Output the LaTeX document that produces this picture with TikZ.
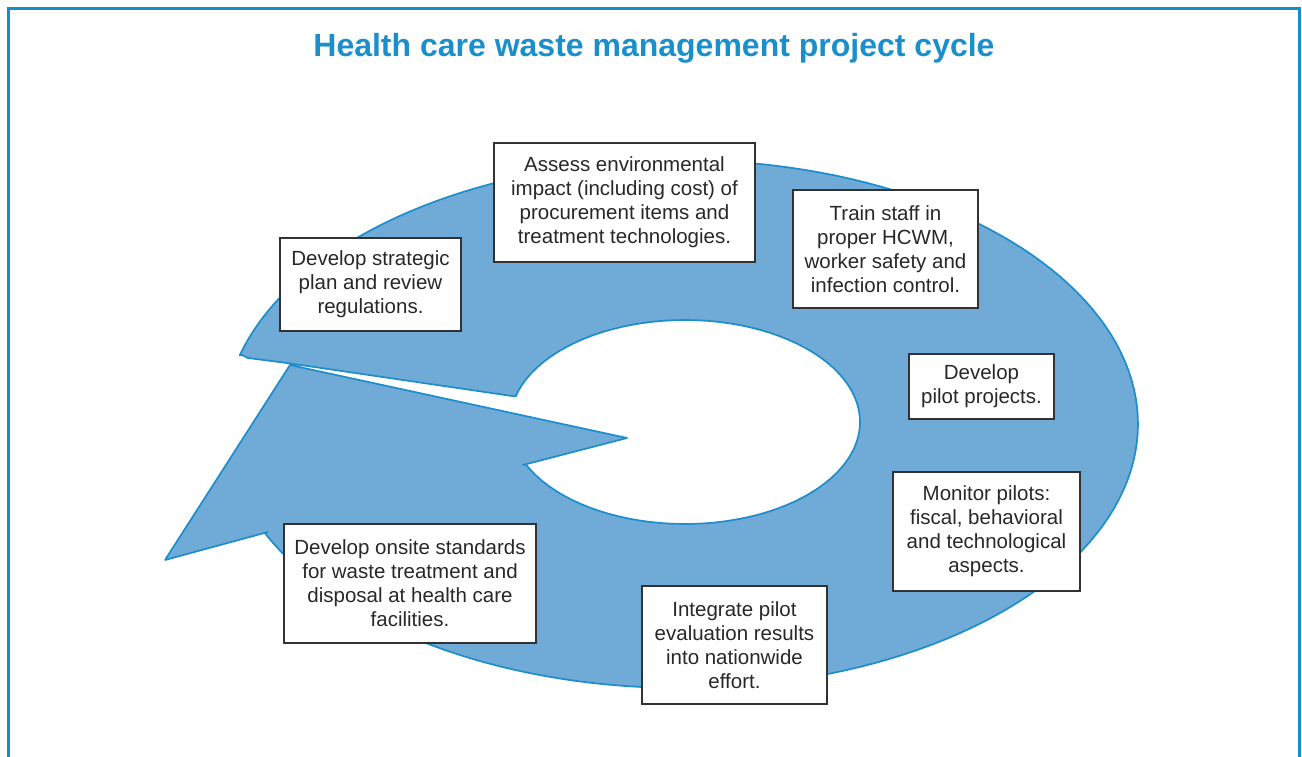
\documentclass[tikz,border=0pt]{standalone}
\usepackage{fontspec}
\setmainfont{Liberation Sans}
\definecolor{ringfill}{RGB}{112,170,214}
\definecolor{ringline}{RGB}{28,142,204}
\definecolor{framecol}{RGB}{24,140,200}
\definecolor{titlecol}{RGB}{27,143,203}
\definecolor{txt}{RGB}{40,40,40}
\definecolor{boxline}{RGB}{50,50,50}
\begin{document}
\begin{tikzpicture}[x=1pt,y=-1pt,
  stepbox/.style={draw=boxline, line width=1.2pt, fill=white, align=center, inner sep=0pt, text=txt, font=\fontsize{20.5}{24}\selectfont},
  ring/.style={fill=ringfill, draw=ringline, line width=1.7pt, line join=round}
]
\useasboundingbox (0,0) rectangle (1302,757);
\draw[framecol, line width=3pt] (8.5,757) -- (8.5,8.5) -- (1299.5,8.5) -- (1299.5,757);
\node[text=titlecol, font=\fontsize{32}{36}\selectfont\bfseries] (title) at (654,48) {Health care waste management project cycle};
% circular arrow
\path[ring]
  (290,365) -- (627,438) -- (523,465)
  -- plot[domain=0:321.1, samples=90] ({685+175*cos(155.6-\x)},{422+102*sin(155.6-\x)})
  -- (512,396) -- (287,363) -- (248,358) -- (242,355)
  -- plot[domain=195.1:515.6, samples=160] ({681+457*cos(\x)},{424+264*sin(\x)})
  -- (268,532) -- (165,560) -- cycle;
% boxes
\node[stepbox, minimum width=181pt, minimum height=93pt] (strategic) at (370.5,284.5) {Develop strategic\\plan and review\\regulations.};
\node[stepbox, minimum width=261pt, minimum height=119pt] (assess) at (624.5,202.5) {Assess environmental\\impact (including cost) of\\procurement items and\\treatment technologies.};
\node[stepbox, minimum width=185pt, minimum height=118pt] (train) at (885.5,249) {Train staff in\\proper HCWM,\\worker safety and\\infection control.};
\node[stepbox, minimum width=145pt, minimum height=65pt] (pilot) at (981.5,386.5) {Develop\\pilot projects.};
\node[stepbox, minimum width=187pt, minimum height=119pt] (monitor) at (986.5,531.5) {Monitor pilots:\\fiscal, behavioral\\and technological\\aspects.};
\node[stepbox, minimum width=185pt, minimum height=118pt] (integrate) at (734.5,645) {Integrate pilot\\evaluation results\\into nationwide\\effort.};
\node[stepbox, minimum width=252pt, minimum height=119pt] (onsite) at (410,583.5) {Develop onsite standards\\for waste treatment and\\disposal at health care\\facilities.};
\end{tikzpicture}
\end{document}
